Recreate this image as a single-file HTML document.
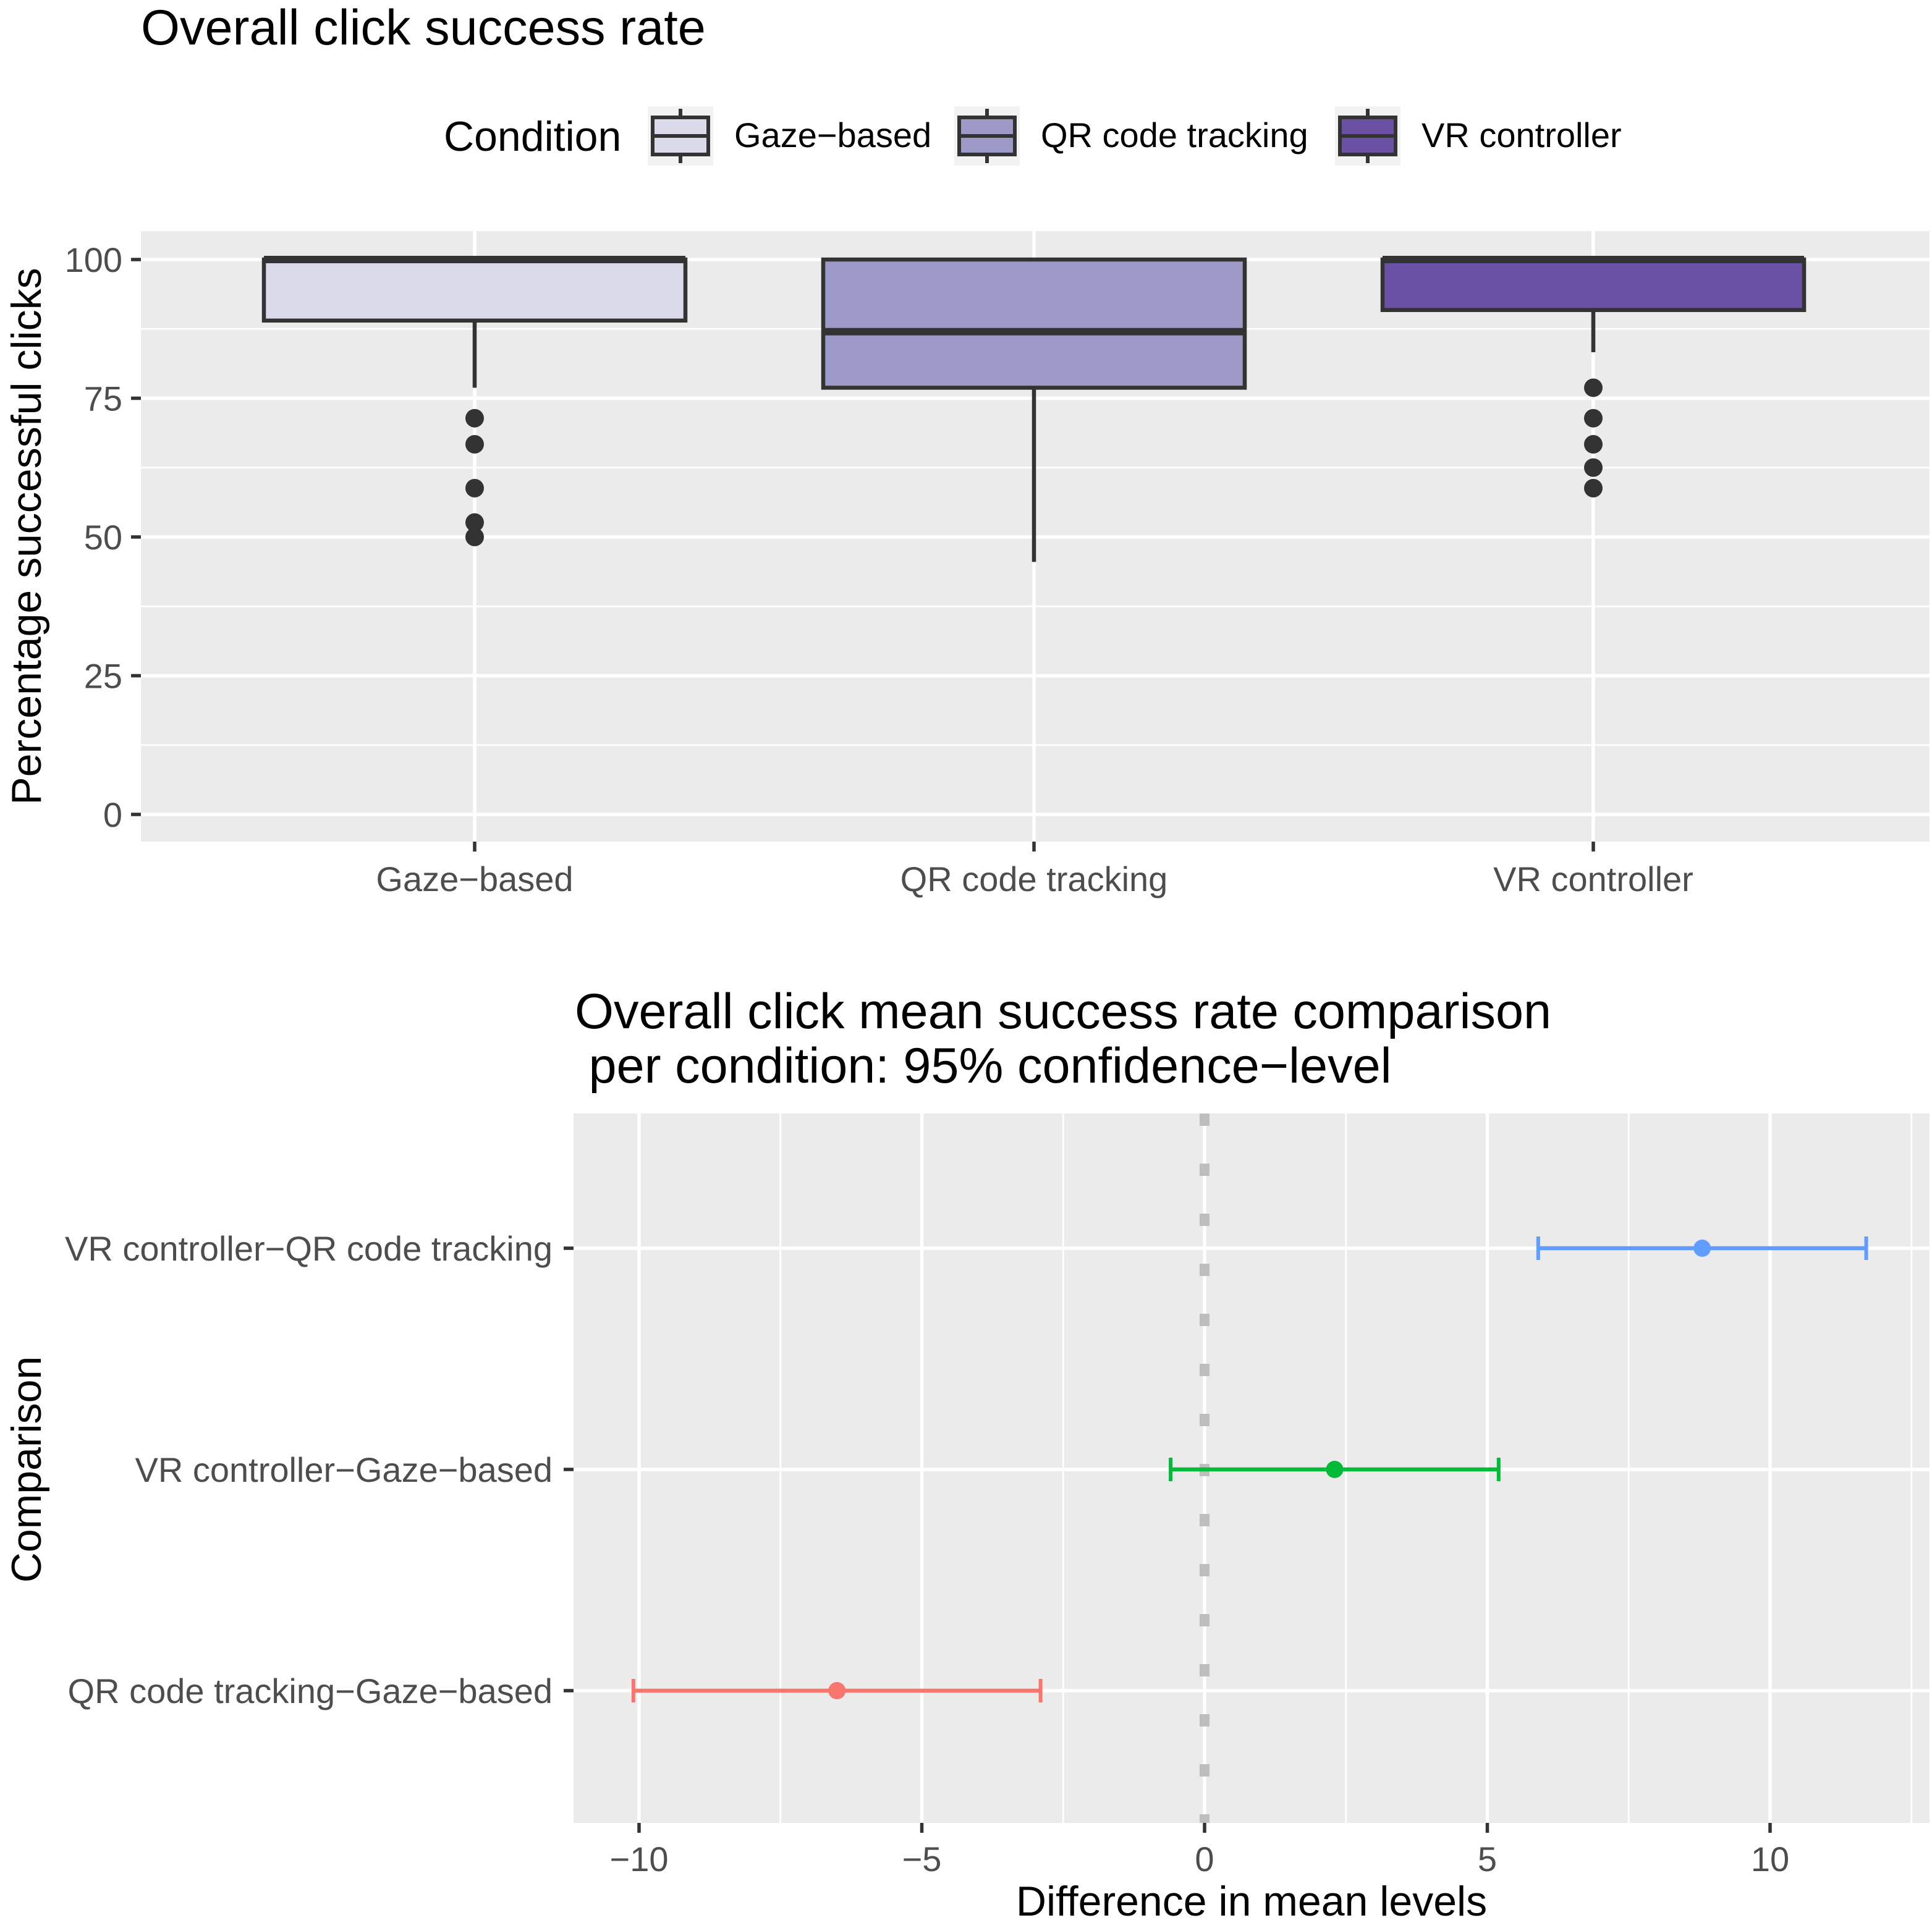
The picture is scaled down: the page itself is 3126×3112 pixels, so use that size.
<!DOCTYPE html>
<html><head><meta charset="utf-8"><style>
html,body{margin:0;padding:0;background:#fff}
svg{display:block;font-family:"Liberation Sans",Arial,sans-serif}
</style></head><body>
<svg id="chart" width="3126" height="3112" viewBox="0 0 3126 3112" xmlns="http://www.w3.org/2000/svg">
<rect width="3126" height="3112" fill="#fff"/>
<g id="top"></g>
<g id="bot"></g>
</svg>
<script>
// ---- top chart data ----
const conditions = ["Gaze\u2212based","QR code tracking","VR controller"];
const boxFill = ["#dadaeb","#9e9ac8","#6a51a3"];
const q1 = [89, 76.9, 90.9];
const med = [100, 87, 100];
const q3 = [100, 100, 100];
const whiskLo = [76.9, 45.5, 83.3];
const whiskHi = [100, 100, 100];
const outliers = [[71.4,66.7,58.8,52.6,50],[],[76.9,71.4,66.7,62.5,58.8]];
const yTicks = [0,25,50,75,100];
// ---- bottom chart data ----
const comparisons = ["QR code tracking\u2212Gaze\u2212based","VR controller\u2212Gaze\u2212based","VR controller\u2212QR code tracking"];
const diffs = [-6.5, 2.3, 8.8];
const lwr = [-10.1, -0.6, 5.9];
const upr = [-2.9, 5.2, 11.7];
const cmpColors = ["#f8766d","#00ba38","#619cff"];
const xTicks = [-10,-5,0,5,10];

const NS="http://www.w3.org/2000/svg";
function mk(parent,tag,attrs,text){const e=document.createElementNS(NS,tag);for(const k in attrs)e.setAttribute(k,attrs[k]);if(text!==undefined)e.textContent=text;parent.appendChild(e);return e;}
const TK=56, AX=68, TT=81;

// ===== TOP =====
const T=document.getElementById('top');
const pL=228,pR=3122,pT=374,pB=1362;
const yS=v=>1318-(v)*8.98;
const xC=i=>768+i*905;
let e=mk(T,'text',{x:228,y:72,'font-size':TT,fill:'#000'},'Overall click success rate');

// legend
e=mk(T,'text',{x:718,y:244,'font-size':AX,fill:'#000'},'Condition');

const lx=[1048,1544,2160];
conditions.forEach((c,i)=>{
  const g=mk(T,'g',{});
  
  mk(g,'rect',{x:lx[i],y:172,width:106,height:96,fill:'#f2f2f2'});
  mk(g,'line',{x1:lx[i]+53,x2:lx[i]+53,y1:176,y2:264,stroke:'#333','stroke-width':6});
  mk(g,'rect',{x:lx[i]+8,y:190,width:90,height:60,fill:boxFill[i],stroke:'#333','stroke-width':6});
  mk(g,'line',{x1:lx[i]+8,x2:lx[i]+98,y1:220,y2:220,stroke:'#333','stroke-width':6});
  mk(g,'text',{x:lx[i]+140,y:238,'font-size':TK,fill:'#000'},c);
});
e=mk(T,'rect',{x:pL,y:pT,width:pR-pL,height:pB-pT,fill:'#ebebeb'});

[12.5,37.5,62.5,87.5].forEach(v=>mk(T,'line',{x1:pL,x2:pR,y1:yS(v),y2:yS(v),stroke:'#fff','stroke-width':2.8}));
yTicks.forEach(v=>{mk(T,'line',{x1:pL,x2:pR,y1:yS(v),y2:yS(v),stroke:'#fff','stroke-width':5.5});
  mk(T,'line',{x1:212,x2:228,y1:yS(v),y2:yS(v),stroke:'#333','stroke-width':5.5});
  const t=mk(T,'text',{x:198,y:yS(v)+20,'font-size':TK,fill:'#4d4d4d','text-anchor':'end'},v);
  });
conditions.forEach((c,i)=>{const x=xC(i);
  mk(T,'line',{x1:x,x2:x,y1:pT,y2:pB,stroke:'#fff','stroke-width':5.5});
  mk(T,'line',{x1:x,x2:x,y1:pB,y2:pB+16,stroke:'#333','stroke-width':5.5});
  const t=mk(T,'text',{x:x,y:1442,'font-size':TK,fill:'#4d4d4d','text-anchor':'middle'},c);
  });
conditions.forEach((c,i)=>{const x=xC(i),hw=341;
  const g=mk(T,'g',{});
  
  mk(g,'line',{x1:x,x2:x,y1:yS(q1[i]),y2:yS(whiskLo[i]),stroke:'#333','stroke-width':6.5});
  mk(g,'line',{x1:x,x2:x,y1:yS(q3[i]),y2:yS(whiskHi[i]),stroke:'#333','stroke-width':6.5});
  mk(g,'rect',{x:x-hw,y:yS(q3[i]),width:hw*2,height:yS(q1[i])-yS(q3[i]),fill:boxFill[i],stroke:'#333','stroke-width':6.5});
  mk(g,'line',{x1:x-hw,x2:x+hw,y1:yS(med[i]),y2:yS(med[i]),stroke:'#333','stroke-width':12});
  outliers[i].forEach(v=>{const p=mk(g,'circle',{cx:x,cy:yS(v),r:15,fill:'#333'});
    });
});
e=mk(T,'text',{transform:'translate(66,868) rotate(-90)','font-size':AX,fill:'#000','text-anchor':'middle'},'Percentage successful clicks');


// ===== BOTTOM =====
const B=document.getElementById('bot');
const bL=928,bR=3122,bT=1802,bB=2950;
const xS=v=>1949+v*91.5;
const rowY=i=>2736-i*358;
e=mk(B,'text',{x:930,y:1664,'font-size':TT,fill:'#000'},'Overall click mean success rate comparison');

e=mk(B,'text',{x:930,y:1752,'font-size':TT,fill:'#000',style:'white-space:pre'},'\u00a0per condition: 95% confidence\u2212level');

e=mk(B,'rect',{x:bL,y:bT,width:bR-bL,height:bB-bT,fill:'#ebebeb'});

[-7.5,-2.5,2.5,7.5,12.5].forEach(v=>mk(B,'line',{x1:xS(v),x2:xS(v),y1:bT,y2:bB,stroke:'#fff','stroke-width':2.8}));
xTicks.forEach(v=>{mk(B,'line',{x1:xS(v),x2:xS(v),y1:bT,y2:bB,stroke:'#fff','stroke-width':5.5});
  mk(B,'line',{x1:xS(v),x2:xS(v),y1:bB,y2:bB+16,stroke:'#333','stroke-width':5.5});
  const t=mk(B,'text',{x:xS(v),y:3028,'font-size':TK,fill:'#4d4d4d','text-anchor':'middle'},v<0?'\u2212'+Math.abs(v):String(v));
  });
comparisons.forEach((c,i)=>{const y=rowY(i);
  mk(B,'line',{x1:bL,x2:bR,y1:y,y2:y,stroke:'#fff','stroke-width':5.5});
  mk(B,'line',{x1:912,x2:928,y1:y,y2:y,stroke:'#333','stroke-width':5.5});
  const t=mk(B,'text',{x:894,y:y+20,'font-size':TK,fill:'#4d4d4d','text-anchor':'end'},c);
  });
e=mk(B,'line',{x1:xS(0),x2:xS(0),y1:bT,y2:bB,stroke:'#bebebe','stroke-width':16,'stroke-dasharray':'20 61'});

comparisons.forEach((c,i)=>{const y=rowY(i),col=cmpColors[i];
  const g=mk(B,'g',{});
  
  mk(g,'line',{x1:xS(lwr[i]),x2:xS(upr[i]),y1:y,y2:y,stroke:col,'stroke-width':6.5});
  mk(g,'line',{x1:xS(lwr[i]),x2:xS(lwr[i]),y1:y-19,y2:y+19,stroke:col,'stroke-width':6});
  mk(g,'line',{x1:xS(upr[i]),x2:xS(upr[i]),y1:y-19,y2:y+19,stroke:col,'stroke-width':6});
  mk(g,'circle',{cx:xS(diffs[i]),cy:y,r:14,fill:col});
});
e=mk(B,'text',{x:2025,y:3100,'font-size':AX,fill:'#000','text-anchor':'middle'},'Difference in mean levels');

e=mk(B,'text',{transform:'translate(66,2378) rotate(-90)','font-size':AX,fill:'#000','text-anchor':'middle'},'Comparison');

</script>
</body></html>
